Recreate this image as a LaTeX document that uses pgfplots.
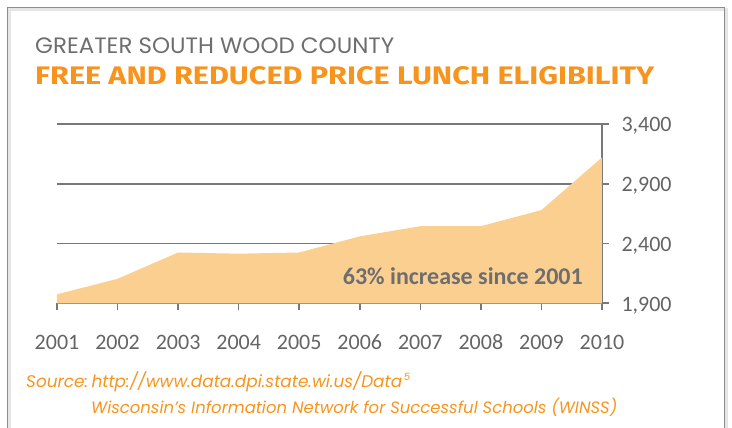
\documentclass[border=0pt]{standalone}
\usepackage{pgfplots}
\pgfplotsset{compat=1.18}
\usepackage{fontspec}
\setmainfont{Carlito}
\newfontfamily\poppins{Poppins}
\newfontfamily\fira{Fira Sans}
\usepackage{graphicx}
\definecolor{areac}{RGB}{251,207,143}
\definecolor{orng}{RGB}{247,148,30}
\definecolor{gtxt}{RGB}{110,110,112}
\definecolor{gridc}{RGB}{120,120,120}
\definecolor{tlab}{RGB}{100,100,100}
\begin{document}
\begin{tikzpicture}[x=1pt,y=1pt]
\useasboundingbox (0,0) rectangle (732,428);
\begin{scope}
\clip (0,0) rectangle (732,428);
\draw[line width=3pt, black!10] (9,-20) -- (9,418.5) -- (726.5,418.5) -- (726.5,-20);
\draw[line width=1pt, black!45] (7.5,-20) -- (7.5,420.5) -- (724.5,420.5) -- (724.5,-20);
\end{scope}
\begin{axis}[at={(57pt,124.7pt)}, anchor=south west, scale only axis,
  width=545pt, height=179.3pt,
  xmin=2001, xmax=2010, ymin=1900, ymax=3400,
  axis x line*=bottom, axis y line*=right,
  axis line style={gridc, line width=1.6pt},
  major tick style={gridc, line width=1.6pt},
  tick align=outside, major tick length=7pt,
  ymajorgrids, major grid style={gridc, line width=1.6pt},
  xtick={2001,2002,2003,2004,2005,2006,2007,2008,2009,2010},
  xticklabels={2001,2002,2003,2004,2005,2006,2007,2008,2009,2010},
  ytick={1900,2400,2900,3400},
  yticklabels={{1,900},{2,400},{2,900},{3,400}},
  x tick label style={font=\fontsize{22}{22}\selectfont, text=tlab, yshift=-21pt},
  y tick label style={font=\fontsize{22}{22}\selectfont, text=tlab, xshift=9pt, yshift=-2pt},
]
\addplot[fill=areac, draw=none] coordinates {
(2001,1975) (2002,2105) (2003,2325) (2004,2315) (2005,2325)
(2006,2460) (2007,2545) (2008,2545) (2009,2680) (2010,3120)
} \closedcycle;
\end{axis}
\node[anchor=base east, inner sep=0, font=\bfseries\fontsize{24}{24}\selectfont, text=gtxt] at (583,143) {63\% increase since 2001};
\node[anchor=base west, inner sep=0, text=gtxt] at (35,374.7) {\resizebox{359pt}{15.7pt}{\poppins GREATER SOUTH WOOD COUNTY}};
\node[anchor=base west, inner sep=0, text=orng] at (35,343.7) {\resizebox{619pt}{18pt}{\fira\bfseries FREE AND REDUCED PRICE LUNCH ELIGIBILITY}};
\node[anchor=base west, inner sep=0, text=orng] at (26,40.7) {\resizebox{376pt}{!}{\poppins\itshape Source:\hspace{-2pt} http://www.data.dpi.state.wi.us/Data}\,\raisebox{7pt}{\fontsize{10}{10}\selectfont\poppins\itshape 5}};
\node[anchor=base west, inner sep=0, text=orng] at (91,14) {\resizebox{526pt}{!}{\poppins\itshape Wisconsin’s Information Network for Successful Schools (WINSS)}};
\end{tikzpicture}
\end{document}
